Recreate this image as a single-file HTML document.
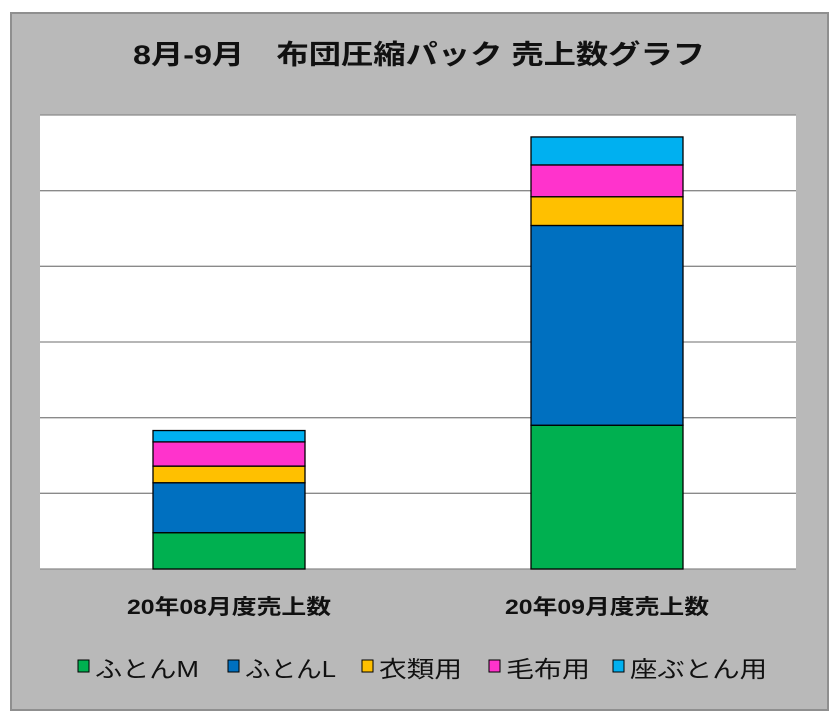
<!DOCTYPE html>
<html><head><meta charset="utf-8"><style>
body{margin:0;background:#fff;width:840px;height:722px;overflow:hidden;font-family:"Liberation Sans","Noto Sans CJK JP",sans-serif}
</style></head><body>
<svg width="840" height="722">
<rect x="11" y="13" width="817" height="697" fill="#b9b9b9" stroke="#8f8f8f" stroke-width="2"/>
<text x="133" y="64" textLength="572" lengthAdjust="spacingAndGlyphs" font-size="27" font-weight="bold" fill="#111" font-family="Liberation Sans,Noto Sans CJK JP,sans-serif">8月-9月　布団圧縮パック 売上数グラフ</text>
<rect x="40" y="115" width="756" height="454" fill="#fff"/>
<g id="grid"></g><g id="bars"></g><g id="labels"></g><g id="legend"></g>
</svg>
<script>
const categories=["20年08月度売上数","20年09月度売上数"];
const seriesNames=["ふとんM","ふとんL","衣類用","毛布用","座ぶとん用"];
const colors=["#00b050","#0070c0","#ffc000","#ff33cc","#00b0f0"];
const futonM=[4.8,19.0];
const futonL=[6.6,26.4];
const clothes=[2.2,3.8];
const blanket=[3.2,4.2];
const zabuton=[1.5,3.7];
const series=[futonM,futonL,clothes,blanket,zabuton];
const yTicks=[0,10,20,30,40,50,60];
const NS="http://www.w3.org/2000/svg";
const x0=40,x1=796,y0=569,y1=115,ymax=60;
const y=v=>y0-(v/ymax)*(y0-y1);
const band=(x1-x0)/categories.length, bw=152;
const cx=i=>x0+band*(i+0.5);
function mk(t,a,p){const e=document.createElementNS(NS,t);for(const k in a)e.setAttribute(k,a[k]);p.appendChild(e);return e;}
const g=document.getElementById('grid');
yTicks.forEach(t=>{const l=mk('line',{x1:x0,x2:x1,y1:y(t),y2:y(t),stroke:'#8a8a8a','stroke-width':1.3},g);

});
const b=document.getElementById('bars');
categories.forEach((c,i)=>{let acc=0;series.forEach((s,j)=>{const r=mk('rect',{x:cx(i)-bw/2,y:y(acc+s[i]),width:bw,height:y(acc)-y(acc+s[i]),fill:colors[j],stroke:'#000','stroke-width':1.3},b);


acc+=s[i];});
const t=mk('text',{x:cx(i)-102,y:614,textLength:204,lengthAdjust:'spacingAndGlyphs','font-size':21,'font-weight':'bold',fill:'#111'},document.getElementById('labels'));t.textContent=c;

});
const lg=document.getElementById('legend');
const lx=[78,228,362,489,613];
const lw=[104,91,83,84,137];
seriesNames.forEach((n,j)=>{const e=mk('g',{},lg);


mk('rect',{x:lx[j],y:660,width:11,height:12,fill:colors[j],stroke:'#000','stroke-width':1},e);
const t=mk('text',{x:lx[j]+17,y:677,textLength:lw[j],lengthAdjust:'spacingAndGlyphs','font-size':23,fill:'#111'},e);t.textContent=n;});
</script>
</body></html>
